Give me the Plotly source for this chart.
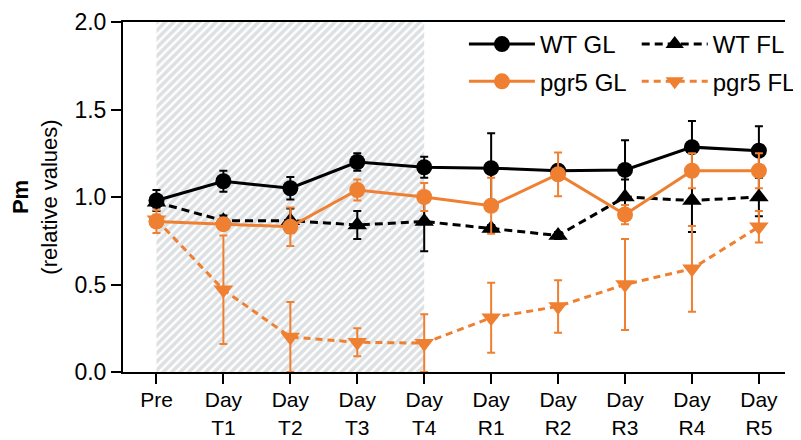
import plotly.graph_objects as go

categories = ["Pre", "Day<br>T1", "Day<br>T2", "Day<br>T3", "Day<br>T4",
              "Day<br>R1", "Day<br>R2", "Day<br>R3", "Day<br>R4", "Day<br>R5"]

wt_gl = [0.98, 1.09, 1.05, 1.20, 1.17, 1.165, 1.15, 1.155, 1.285, 1.265]
wt_gl_err = [0.06, 0.06, 0.065, 0.05, 0.06, 0.20, 0.03, 0.17, 0.15, 0.14]

pgr5_gl = [0.86, 0.845, 0.83, 1.04, 1.00, 0.95, 1.13, 0.90, 1.15, 1.15]
pgr5_gl_err = [0.065, 0.03, 0.11, 0.06, 0.08, 0.16, 0.125, 0.055, 0.10, 0.10]

wt_fl = [0.97, 0.865, 0.865, 0.84, 0.86, 0.82, 0.78, 1.00, 0.98, 1.00]
wt_fl_err = [0.03, 0.03, 0.07, 0.08, 0.17, 0.02, 0.02, 0.10, 0.18, 0.11]

pgr5_fl = [0.87, 0.47, 0.20, 0.17, 0.165, 0.31, 0.375, 0.50, 0.59, 0.83]
pgr5_fl_err = [0.03, 0.31, 0.20, 0.08, 0.165, 0.20, 0.15, 0.26, 0.245, 0.09]

treatment_start = "Pre"
treatment_end = "Day<br>T4"

ORANGE = "#EF7F31"
BLACK = "#000000"
FONT = "Liberation Sans, Arial, sans-serif"

x = list(range(len(categories)))
xs = categories.index(treatment_start)
xe = categories.index(treatment_end)

fig = go.Figure()

# hatched treatment period
fig.add_trace(go.Scatter(
    x=[xs, xe, xe, xs, xs], y=[0, 0, 2, 2, 0],
    mode="lines", fill="toself", line=dict(width=0, color="rgba(0,0,0,0)"),
    fillpattern=dict(shape="/", fgcolor="#bcc1c5", bgcolor="white", size=6, solidity=0.6),
    showlegend=False, hoverinfo="skip",
))

def add(name, y, err, color, symbol, dash, legend, size):
    fig.add_trace(go.Scatter(
        x=x, y=y, name=name, mode="lines+markers",
        line=dict(color=color, width=3, dash=dash),
        marker=dict(color=color, symbol=symbol, size=size),
        error_y=dict(type="data", array=err, visible=True, color=color, thickness=2, width=4),
        legend=legend, legendgroup=name,
    ))

add("WT GL", wt_gl, wt_gl_err, BLACK, "circle", "solid", "legend", 16)
add("WT FL", wt_fl, wt_fl_err, BLACK, "triangle-up", "8px,5px", "legend2", 17)
add("pgr5 GL", pgr5_gl, pgr5_gl_err, ORANGE, "circle", "solid", "legend", 16)
add("pgr5 FL", pgr5_fl, pgr5_fl_err, ORANGE, "triangle-down", "7px,5px", "legend2", 17)

legend_common = dict(
    font=dict(family=FONT, size=24, color="black"),
    bgcolor="rgba(0,0,0,0)", itemwidth=66, tracegroupgap=3,
    yanchor="top", y=1.0, xanchor="left", itemclick=False,
)

# page body has an 8px margin, so the figure is 8px smaller than the window
fig.update_layout(
    width=793, height=432,
    margin=dict(l=115, r=0, t=14, b=68),
    plot_bgcolor="white", paper_bgcolor="white",
    font=dict(family=FONT, size=22, color="black"),
    legend=dict(x=0.515, **legend_common),
    legend2=dict(x=0.776, **legend_common),
    xaxis=dict(
        range=[-0.5, 9.39], tickmode="array", tickvals=x, ticktext=categories,
        showgrid=False, zeroline=False, showline=True, linecolor="black", linewidth=2,
        mirror=True, ticks="outside", ticklen=10, tickwidth=2, tickcolor="black",
        tickfont=dict(family=FONT, size=21), ticklabelstandoff=-2, automargin=False,
    ),
    yaxis=dict(
        range=[0, 2], tickmode="linear", tick0=0, dtick=0.5, tickformat=".1f",
        showgrid=False, zeroline=False, showline=True, linecolor="black", linewidth=2,
        ticks="outside", ticklen=10, tickwidth=2, tickcolor="black",
        tickfont=dict(family=FONT, size=23), automargin=False,
        title=dict(text="<b>Pm</b><br>(relative values)", font=dict(family=FONT, size=22), standoff=21),
    ),
    showlegend=True,
)

fig.write_html("out.html")
